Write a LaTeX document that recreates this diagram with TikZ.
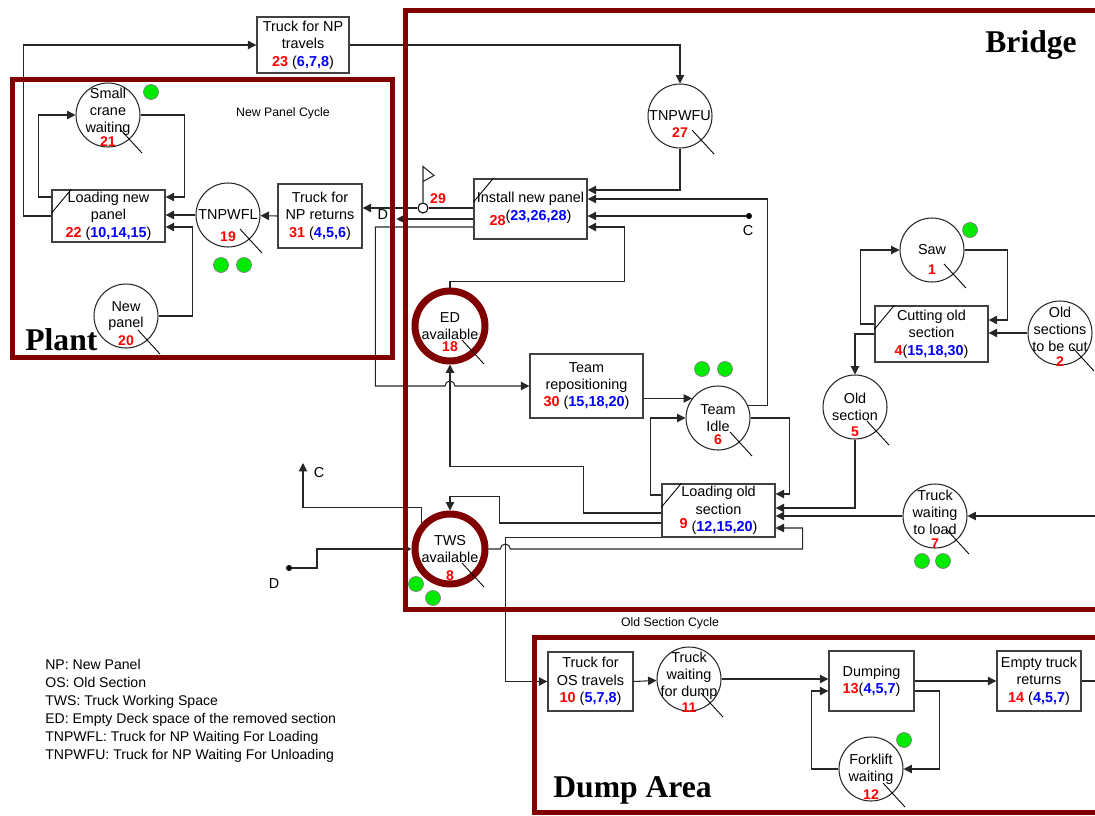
\documentclass[tikz,border=0pt]{standalone}
\usepackage{fontspec}
\setmainfont{Liberation Sans}
\newfontfamily\regionfont{Liberation Serif}
\usetikzlibrary{arrows.meta,calc}
\definecolor{regionred}{RGB}{128,0,0}
\definecolor{numred}{RGB}{255,0,0}
\definecolor{numblue}{RGB}{0,0,255}
\definecolor{tokengreen}{RGB}{0,235,0}
\newcommand{\rnum}[1]{\textcolor{numred}{\bfseries #1}}
\newcommand{\bnum}[1]{(\textcolor{numblue}{\bfseries #1})}
\tikzset{
    activitybox/.style={
        draw=black!75,
        line width=0.8pt,
        rectangle,
        fill=white,
        align=center,
        inner sep=1pt,
        font=\fontsize{8.2}{9.9}\selectfont
    },
    queuecircle/.style={
        draw=black!85,
        line width=0.6pt,
        circle,
        fill=white,
        minimum size=1.28cm,
        inner sep=0pt
    },
    resourcering/.style={
        draw=regionred,
        line width=0.14cm,
        circle,
        fill=white,
        minimum size=1.4cm,
        inner sep=0pt
    },
    circletext/.style={
        align=center,
        inner sep=0pt,
        font=\fontsize{8.2}{9.6}\selectfont
    },
    circlenumber/.style={
        inner sep=0pt,
        text=numred,
        font=\fontsize{8}{9}\selectfont\bfseries
    },
    textlabel/.style={
        inner sep=0pt,
        font=\fontsize{8.2}{9.9}\selectfont
    },
    smalltext/.style={
        inner sep=0pt,
        font=\fontsize{7}{8}\selectfont
    },
    legendtext/.style={
        inner sep=0pt,
        align=left,
        font=\fontsize{8}{10.2}\selectfont
    },
    tokendot/.style={
        circle,
        draw=black!50,
        line width=0.4pt,
        fill=tokengreen,
        minimum size=0.3cm,
        inner sep=0pt
    },
    endpoint/.style={
        circle,
        fill=black,
        minimum size=0.12cm,
        inner sep=0pt
    },
    flowline/.style={draw=black!85, line width=0.6pt},
    flowarrow/.style={flowline, -{Triangle[length=4.8pt,width=4.8pt]}},
    regionframe/.style={draw=regionred, line width=0.1cm},
    regionname/.style={
        anchor=base west,
        inner sep=0pt,
        font=\regionfont\fontsize{18}{18}\selectfont\bfseries
    }
}

\begin{document}
\begin{tikzpicture}[x=0.02cm, y=-0.02cm]
\useasboundingbox (0,0) rectangle (1095,815);
\clip (0,0) rectangle (1095,815);

% ---------------------------------------------------------
% Activities
% ---------------------------------------------------------
\node[activitybox, minimum width=1.84cm, minimum height=1.12cm] (np23) at (303,45)
    {Truck for NP\\travels\\\rnum{23} \bnum{6,7,8}};
\node[activitybox, minimum width=2.26cm, minimum height=1.04cm] (lnp22) at (108.5,216)
    {Loading new\\panel\\\rnum{22} \bnum{10,14,15}};
\node[activitybox, minimum width=1.68cm, minimum height=1.28cm] (npr31) at (320,216)
    {Truck for\\NP returns\\\rnum{31} \bnum{4,5,6}};
\node[activitybox, minimum width=2.26cm, minimum height=1.2cm] (inp28) at (530.5,209)
    {Install new panel\\\raisebox{-3pt}{\rnum{28}}\bnum{23,26,28}};
\node[activitybox, minimum width=2.26cm, minimum height=1.28cm] (trep30) at (586.5,386)
    {Team\\repositioning\\\rnum{30} \bnum{15,18,20}};
\node[activitybox, minimum width=2.26cm, minimum height=1.06cm] (lold9) at (718.5,510.5)
    {Loading old\\section\\\raisebox{2pt}{\rnum{9}} \bnum{12,15,20}};
\node[activitybox, minimum width=2.26cm, minimum height=1.12cm] (cut4) at (931.5,334)
    {Cutting old\\section\\\rnum{4}\bnum{15,18,30}};
\node[activitybox, minimum width=1.7cm, minimum height=1.18cm] (tos10) at (590.5,681.5)
    {Truck for\\OS travels\\\rnum{10} \bnum{5,7,8}};
\node[activitybox, minimum width=1.7cm, minimum height=1.2cm] (dump13) at (871.5,681)
    {Dumping\\\rnum{13}\bnum{4,5,7}};
\node[activitybox, minimum width=1.68cm, minimum height=1.2cm] (etr14) at (1039,681)
    {Empty truck\\returns\\\rnum{14} \bnum{4,5,7}};

% corner marks of the activities that need a resource
\foreach \nm in {lnp22,inp28,lold9,cut4}
{
    \draw[line width=0.5pt] ($(\nm.north west)+(0,24)$) -- ($(\nm.north west)+(20,0)$);
}

% ---------------------------------------------------------
% Queues
% ---------------------------------------------------------
\node[queuecircle] (scw21) at (108,115) {};
\node[circletext, yshift=2pt] (scw21-t) at (scw21) {Small\\crane\\waiting};
\node[queuecircle] (tnpwfl19) at (228,215) {};
\node[circletext] (tnpwfl19-t) at (tnpwfl19) {TNPWFL};
\node[queuecircle] (newp20) at (126,316) {};
\node[circletext] (newp20-t) at (newp20) {New\\panel};
\node[queuecircle] (tnpwfu27) at (680,116) {};
\node[circletext] (tnpwfu27-t) at (tnpwfu27) {TNPWFU};
\node[queuecircle] (saw1) at (932,250) {};
\node[circletext] (saw1-t) at (saw1) {Saw};
\node[queuecircle] (osc2) at (1060,333) {};
\node[circletext, yshift=2pt] (osc2-t) at (osc2) {Old\\sections\\to be cut};
\node[queuecircle] (os5) at (855,407) {};
\node[circletext] (os5-t) at (os5) {Old\\section};
\node[queuecircle] (twl7) at (935,516) {};
\node[circletext, yshift=2pt] (twl7-t) at (twl7) {Truck\\waiting\\to load};
\node[queuecircle] (idle6) at (718,418) {};
\node[circletext] (idle6-t) at (idle6) {Team\\Idle};
\node[queuecircle] (twd11) at (689,679) {};
\node[circletext, yshift=2pt] (twd11-t) at (twd11) {Truck\\waiting\\for dump};
\node[queuecircle] (fork12) at (871,769) {};
\node[circletext] (fork12-t) at (fork12) {Forklift\\waiting};

% shared resources (thick rings)
\node[resourcering] (ed18) at (450,326) {};
\node[circletext] (ed18-t) at (ed18) {ED\\available};
\node[resourcering] (tws8) at (450,549) {};
\node[circletext] (tws8-t) at (tws8) {TWS\\available};

% numbers and marks of the queues
\foreach \nm/\num/\dy in {scw21/21/27, tnpwfl19/19/22, newp20/20/25,
    tnpwfu27/27/17, saw1/1/20, osc2/2/29, os5/5/25, twl7/7/28, idle6/6/22,
    twd11/11/29, fork12/12/26, ed18/18/21, tws8/8/27}
{
    \node[circlenumber] (\nm-n) at ($(\nm)+(0,\dy)$) {\num};
    \draw[line width=0.5pt] ($(\nm)+(12,14)$) -- ++(22,24);
}

% tokens
\foreach \tx/\ty [count=\k] in {151/92, 221/265, 244/265, 970/230, 702/369,
    725/369, 416/584, 433/598, 922/561, 943/561, 904/740}
{
    \node[tokendot] (tok\k) at (\tx,\ty) {};
}

% ---------------------------------------------------------
% Plant connections
% ---------------------------------------------------------
\draw[flowarrow] (lnp22.west) -- ++(-28,0) |- (np23.west);
\draw[flowarrow] ($(lnp22.west)+(0,-19)$) -- ++(-13,0) |- (scw21.west);
\draw[flowarrow] (scw21.east) -- ++(44,0) |- ($(lnp22.east)+(0,-19)$);
\draw[flowarrow] (tnpwfl19.west) -- (lnp22.east |- tnpwfl19.west);
\draw[flowarrow] (newp20.east) -- ++(34,0) |- ($(lnp22.east)+(0,11)$);
\draw[flowarrow] (npr31.west) -- (tnpwfl19);

% ---------------------------------------------------------
% Bridge connections
% ---------------------------------------------------------
\draw[flowarrow] (np23.east) -| (tnpwfu27.north);
\draw[flowarrow] (tnpwfu27.south) |- ($(inp28.east)+(0,-19)$);
\draw[flowarrow] (idle6.23) -- ++(20,0) |- ($(inp28.east)+(0,-10)$);

\node[endpoint] (cdotA) at (749,216) {};
\node[textlabel] (clabA) at (748,231) {C};
\draw[flowarrow] (cdotA) -- (inp28.east |- cdotA);
\draw[flowarrow] (ed18.north) -- ++(0,-6) -| ($(inp28.east)+(37,18)$)
    -- ($(inp28.east)+(0,18)$);

% milestone 29
\node[draw, circle, fill=white, line width=0.6pt, minimum size=0.2cm, inner sep=0pt]
    (junc29) at (423,208) {};
\draw[flowline] (inp28.west |- junc29) -- (junc29.east);
\draw[flowarrow] (junc29.west) -- (npr31.east |- junc29);
\draw[flowline] (junc29.north) -- ++(0,-36) -- ++(11,9) -- ++(-11,6);
\node[circlenumber] (lab29) at (438,199) {29};

% off-page D
\coordinate (dout) at ($(inp28.west)+(-77,10)$);
\draw[flowarrow] ($(inp28.west)+(0,10)$) -- (dout);
\node[textlabel, anchor=east] (dlabA) at ($(dout)+(-8,-4)$) {D};

\coordinate (hopA) at (ed18.south |- trep30.west);
\draw[flowarrow] ($(inp28.west)+(0,18)$) -- ++(-98,0) |- ($(hopA)+(-5,0)$)
    arc[start angle=180, end angle=0, radius=0.1cm] -- (trep30.west);

\draw[flowarrow] ($(lold9.west)+(0,2.5)$) -- ++(-78,0) |- ($(ed18.south)+(0,102)$)
    -- (ed18.south);
\draw[flowarrow] ($(lold9.west)+(0,12.5)$) -- ++(-162,0) |- ($(tws8.north)+(0,-14)$)
    -- (tws8.north);

\coordinate (vdrop) at ($(lold9.south west)+(-156,0)$);
\coordinate (hopB) at (vdrop |- tws8.east);
\draw[flowarrow] (lold9.south west) -- (vdrop) |- (tos10.west);
\draw[flowarrow] (tws8.east) -- ($(hopB)+(-5,0)$)
    arc[start angle=180, end angle=0, radius=0.1cm]
    -| ($(lold9.east)+(27,17.5)$) -- ($(lold9.east)+(0,17.5)$);

\draw[flowarrow] (idle6.east) -- ++(39,0) |- ($(lold9.east)+(0,-16.5)$);
\draw[flowarrow] ($(lold9.west)+(0,-15.5)$) -- ++(-11,0) |- (idle6.west);
\draw[flowarrow] (trep30.east |- idle6.143) -- (idle6.143);
\draw[flowarrow] (os5.south) |- ($(lold9.east)+(0,-2.5)$);
\draw[flowarrow] (twl7.west) -- (lold9.east |- twl7.west);
\coordinate (edgeR) at (1095,516);
\draw[flowarrow] (edgeR) -- (twl7.east);

% cutting
\draw[flowarrow] ($(cut4.west)+(0,-10)$) -- ++(-14,0) |- (saw1.west);
\draw[flowarrow] (saw1.east) -- ++(43,0) |- ($(cut4.east)+(0,-14)$);
\draw[flowarrow] (osc2.west) -- (cut4.east |- osc2.west);
\draw[flowarrow] (cut4.west) -| (os5.north);

% off-page C and D at the truck space
\coordinate (cout) at (303,463);
\draw[flowarrow] (tws8.138) -- ++(0,-16) -| (cout);
\node[textlabel] (clabB) at (319,473) {C};
\node[endpoint] (ddotB) at (289,568) {};
\node[textlabel] (dlabB) at (274,584) {D};
\draw[flowarrow] (ddotB) -- ++(28,0) |- (tws8.west);

% ---------------------------------------------------------
% Dump area connections
% ---------------------------------------------------------
\draw[flowarrow] (tos10.east) -- (twd11);
\draw[flowarrow] (twd11.east) -- (dump13.west |- twd11.east);
\draw[flowarrow] (dump13.east) -- (etr14.west);
\coordinate (edgeD) at (1095,681);
\draw[flowline] (etr14.east) -- (edgeD);
\draw[flowarrow] ($(dump13.east)+(0,10)$) -- ++(25,0) |- (fork12.east);
\draw[flowarrow] (fork12.west) -- ++(-27,0) |- ($(dump13.west)+(0,10)$);

% ---------------------------------------------------------
% Regions and texts
% ---------------------------------------------------------
\draw[regionframe] (12.5,79.5) rectangle (392.5,357.5);
\draw[regionframe] (405,10.5) rectangle (1120,609.5);
\draw[regionframe] (534.5,637.5) rectangle (1120,812);

\node[regionname] (plantlab) at (25,350) {Plant};
\node[regionname] (bridgelab) at (985,52) {Bridge};
\node[regionname] (dumplab) at (553,797) {Dump Area};

\node[smalltext] (npcycle) at (283,113) {New Panel Cycle};
\node[smalltext] (oscycle) at (670,623) {Old Section Cycle};

\node[legendtext, anchor=west] (legend) at (45,711)
    {NP: New Panel\\OS: Old Section\\TWS: Truck Working Space\\
     ED: Empty Deck space of the removed section\\
     TNPWFL: Truck for NP Waiting For Loading\\
     TNPWFU: Truck for NP Waiting For Unloading};

\end{tikzpicture}
\end{document}
